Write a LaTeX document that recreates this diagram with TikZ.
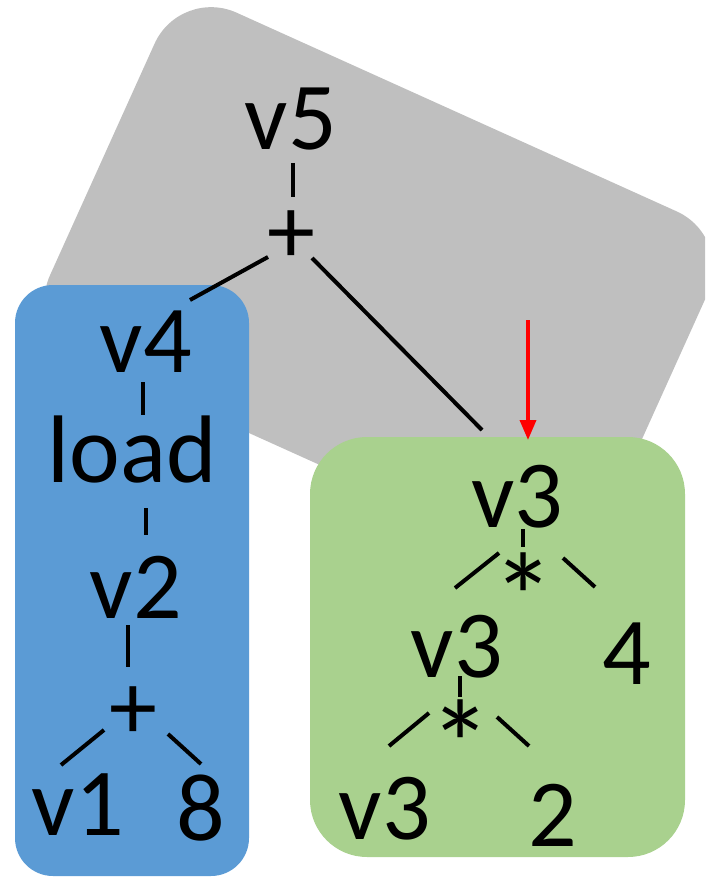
\documentclass[tikz,border=0pt]{standalone}
\usepackage{fontspec}
\setmainfont{Carlito}
\usetikzlibrary{calc,arrows.meta}
\definecolor{ggray}{HTML}{BFBFBF}
\definecolor{gblue}{HTML}{5B9BD5}
\definecolor{ggreen}{HTML}{A9D18E}
\begin{document}
\begin{tikzpicture}[x=1pt,y=-1pt,
  lbl/.style={inner sep=0pt,anchor=base,font=\fontsize{96}{110}\selectfont},
  star/.style={inner sep=0pt,anchor=base,font=\fontsize{125}{140}\selectfont},
  edge/.style={line width=4pt,black},
  box/.style={draw=none,inner sep=0pt}]
\useasboundingbox (0,0) rectangle (705,877);
\clip (0,0) rectangle (705,877);
% regions
\node[box,fill=ggray,rotate=-24.3,minimum width=607pt,minimum height=378pt,rounded corners=62pt] (grp) at (378.9,284.3) {};
\node[box,fill=gblue,minimum width=234pt,minimum height=591pt,rounded corners=38pt] (blu) at (132,580.5) {};
\node[box,fill=ggreen,minimum width=375pt,minimum height=420pt,rounded corners=57pt] (grn) at (497.5,647) {};
% labels
\node[lbl] (v5) at (291,150) {v5};
\node[lbl] (p1) at (291,263) {+};
\node[lbl] (v4) at (146,372) {v4};
\node[lbl] (ld) at (132,482) {load};
\node[lbl] (v2) at (136,618) {v2};
\node[lbl] (p2) at (133,739) {+};
\node[lbl] (v1) at (78,835) {v1};
\node[lbl] (n8) at (201,840) {8};
\node[lbl] (v3a) at (517,527) {v3};
\node[star] (s1) at (524,641) {*};
\node[lbl] (v3b) at (457,677) {v3};
\node[lbl] (n4) at (627,684) {4};
\node[star] (s2) at (461,788) {*};
\node[lbl] (v3c) at (385,839) {v3};
\node[lbl] (n2) at (553,846) {2};
% connectors
\draw[edge] ($(v5.base)+(2,13)$) -- ($(p1.base)+(2,-66)$);
\draw[edge] ($(p1.base)+(-23,-6)$) -- ($(v4.base)+(44,-72)$);
\draw[edge] ($(p1.base)+(21,-5)$) -- ($(v3a.base)+(-35,-97)$);
\draw[edge] ($(v4.base)+(-3,10)$) -- ($(ld.base)+(11,-67)$);
\draw[edge] ($(ld.base)+(14,26)$) -- ($(v2.base)+(10,-83)$);
\draw[edge] ($(v2.base)+(-8,7)$) -- ($(p2.base)+(-5,-72)$);
\draw[edge] ($(p2.base)+(-29,-9)$) -- ($(v1.base)+(-17,-70)$);
\draw[edge] ($(p2.base)+(35,-5)$) -- ($(n8.base)+(0,-76)$);
\draw[edge] ($(v3a.base)+(6,2)$) -- ($(s1.base)+(-1,-94)$);
\draw[edge] ($(s1.base)+(-25,-88)$) -- ($(v3b.base)+(-2,-89)$);
\draw[edge] ($(s1.base)+(39,-83)$) -- ($(n4.base)+(-32,-97)$);
\draw[edge] ($(v3b.base)+(3,-1)$) -- ($(s2.base)+(-1,-91)$);
\draw[edge] ($(s2.base)+(-32,-75)$) -- ($(v3c.base)+(4,-93)$);
\draw[edge] ($(s2.base)+(36,-71)$) -- ($(n2.base)+(-24,-100)$);
% red arrow
\coordinate (rs) at (528,320);
\draw[red,line width=3.5pt,-{Triangle[length=20pt,width=16pt]}] (rs) -- ($(v3a.base)+(11,-87)$);
\end{tikzpicture}
\end{document}
